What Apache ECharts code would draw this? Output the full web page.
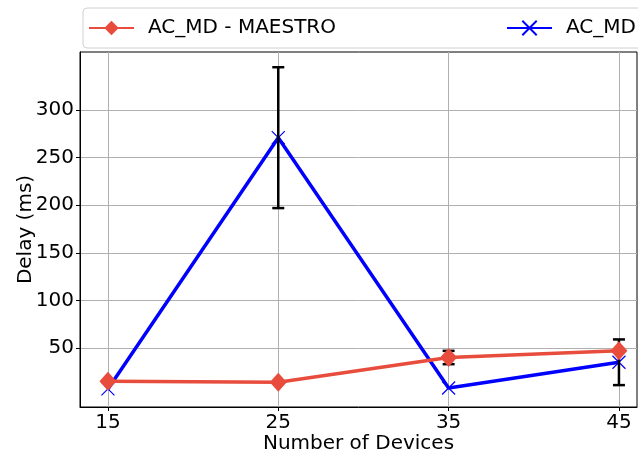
<!DOCTYPE html>
<html>
<head>
<meta charset="utf-8">
<script src="https://cdn.jsdelivr.net/npm/echarts@6/dist/echarts.min.js"></script>
<style>html,body{margin:0;padding:0;background:#fff}#main{width:638px;height:457px}</style>
</head>
<body>
<div id="main"></div>
<script>
// devices on x axis
var devices = [15, 25, 35, 45];
var maestroDelay = [15, 14, 40, 47];
var maestroErr = [0, 0, 7, 0];
var acmdDelay = [7, 271, 8, 35];
var acmdErr = [0, 74, 0, 24];
var yTicks = [50, 100, 150, 200, 250, 300];

var myChart = echarts.init(document.getElementById('main'));

function pairs(ys) {
  return devices.map(function (x, i) { return [x, ys[i]]; });
}
function errData(ys, es) {
  var out = [];
  devices.forEach(function (x, i) {
    if (es[i] > 0) out.push([x, ys[i] - es[i], ys[i] + es[i]]);
  });
  return out;
}
function errItem(params, api) {
  var lo = api.coord([api.value(0), api.value(1)]);
  var hi = api.coord([api.value(0), api.value(2)]);
  var s = { stroke: '#000', lineWidth: 2.5 };
  return {
    type: 'group',
    children: [
      { type: 'line', shape: { x1: lo[0], y1: lo[1], x2: hi[0], y2: hi[1] }, style: s },
      { type: 'line', shape: { x1: lo[0] - 6, y1: lo[1], x2: lo[0] + 6, y2: lo[1] }, style: s },
      { type: 'line', shape: { x1: hi[0] - 6, y1: hi[1], x2: hi[0] + 6, y2: hi[1] }, style: s }
    ]
  };
}

var font = 'DejaVu Sans';
myChart.setOption({
  animation: false,
  textStyle: { fontFamily: font },
  grid: { left: 80, right: 1, top: 52, bottom: 50, show: true, borderColor: '#000', borderWidth: 1, outerBoundsMode: 'none', containLabel: false },
  legend: {
    left: 83, top: 8, width: 620,
    itemGap: 170,
    itemWidth: 45, itemHeight: 18,
    padding: [10, 10, 10, 5],
    borderColor: '#d0d0d0', borderWidth: 1, borderRadius: 4,
    textStyle: { fontSize: 20, color: '#000', fontFamily: font, padding: [0, 0, 0, 9] },
    data: ['AC_MD - MAESTRO', 'AC_MD']
  },
  xAxis: {
    type: 'value', min: 13.36, max: 46.06,
    name: 'Number of Devices', nameLocation: 'middle', nameGap: 27, nameMoveOverlap: false,
    nameTextStyle: { fontSize: 20, color: '#000', fontFamily: font },
    axisLine: { onZero: false, lineStyle: { color: '#000' } },
    axisTick: { show: true, length: 4, lineStyle: { color: '#000' }, customValues: devices },
    axisLabel: { fontSize: 20, color: '#000', customValues: devices, margin: 6 },
    splitLine: { show: true, lineStyle: { color: '#b0b0b0', width: 1 } }
  },
  yAxis: {
    type: 'value', min: -12, max: 361,
    name: 'Delay (ms)', nameLocation: 'middle', nameGap: 44, nameMoveOverlap: false,
    nameTextStyle: { fontSize: 20, color: '#000', fontFamily: font },
    axisLine: { show: true, onZero: false, lineStyle: { color: '#000' } },
    axisTick: { show: true, length: 4, lineStyle: { color: '#000' }, customValues: yTicks },
    axisLabel: { fontSize: 20, color: '#000', customValues: yTicks, margin: 6 },
    splitLine: { show: true, lineStyle: { color: '#b0b0b0', width: 1 } }
  },
  series: [
    {
      name: 'AC_MD - MAESTRO', type: 'line', data: pairs(maestroDelay),
      symbol: 'diamond', symbolSize: [17, 19],
      lineStyle: { color: '#e84c3d', width: 3.5 },
      itemStyle: { color: '#e84c3d' }, z: 6
    },
    {
      name: 'AC_MD', type: 'line', data: pairs(acmdDelay),
      symbol: 'path://M0,0L10,10M10,0L0,10', symbolSize: 13,
      lineStyle: { color: '#0000ff', width: 3.5 },
      itemStyle: { color: 'none', borderColor: '#0000ff', borderWidth: 1.2 }, z: 4
    },
    { type: 'custom', renderItem: errItem, data: errData(maestroDelay, maestroErr), encode: { x: 0, y: [1, 2] }, z: 5, silent: true },
    { type: 'custom', renderItem: errItem, data: errData(acmdDelay, acmdErr), encode: { x: 0, y: [1, 2] }, z: 5, silent: true }
  ]
});
</script>
</body>
</html>
